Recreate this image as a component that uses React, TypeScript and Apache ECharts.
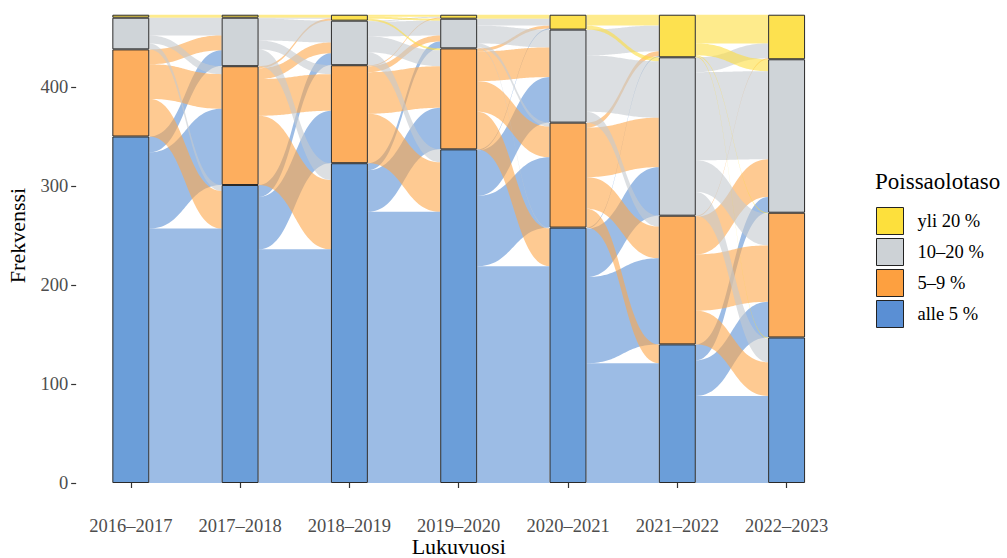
import React, { useEffect, useRef } from "react";
import * as echarts from "echarts";

// Academic years (x axis categories)
const years = ["2016–2017", "2017–2018", "2018–2019", "2019–2020", "2020–2021", "2021–2022", "2022–2023"];

// Absence levels, top to bottom (legend order)
const levels = ["yli 20 %", "10–20 %", "5–9 %", "alle 5 %"];

// Stratum counts per year
const yli20 = [3, 3, 6, 4, 15, 43, 45];
const p10_20 = [32, 49, 45, 30, 94, 160, 155];
const p5_9 = [88, 120, 99, 102, 106, 130, 126];
const alle5 = [350, 301, 323, 337, 258, 140, 147];

// Transition matrices: rows = origin level, cols = destination level
// order: yli 20 %, 10–20 %, 5–9 %, alle 5 %
const flows2016_2017 = [
  [3, 0, 0, 0],
  [0, 18, 8, 6],
  [0, 15, 35, 38],
  [0, 16, 77, 257],
];
const flows2017_2018 = [
  [3, 0, 0, 0],
  [1, 22, 9, 17],
  [2, 11, 37, 70],
  [0, 12, 53, 236],
];
const flows2018_2019 = [
  [2, 2, 2, 0],
  [1, 15, 16, 13],
  [1, 6, 42, 50],
  [0, 7, 42, 274],
];
const flows2019_2020 = [
  [4, 0, 0, 0],
  [7, 18, 4, 1],
  [3, 30, 31, 38],
  [1, 46, 71, 219],
];
const flows2020_2021 = [
  [11, 4, 0, 0],
  [26, 57, 11, 0],
  [5, 50, 32, 19],
  [1, 49, 87, 121],
];
const flows2021_2022 = [
  [29, 12, 1, 1],
  [15, 89, 32, 24],
  [1, 38, 57, 34],
  [0, 16, 36, 88],
];
const transitions = [flows2016_2017, flows2017_2018, flows2018_2019, flows2019_2020, flows2020_2021, flows2021_2022];

// styles
const BASE_RGB = [
  [253, 222, 63],
  [196, 202, 207],
  [253, 166, 74],
  [90, 143, 212],
];
const STRATUM_COLORS = ["#fde14f", "#cfd4d8", "#fdae5e", "#6b9ed9"];
const LEGEND_COLORS = ["#fde03c", "#cdd2d6", "#fda040", "#5a8fd4"];
const FLOW_ALPHA = 0.6;
const STRATUM_FRAC = 0.338;
const FONT = "'Liberation Serif', 'Times New Roman', serif";

function buildFlowData() {
  const byLevel = [yli20, p10_20, p5_9, alle5];
  const data: number[][] = [];
  transitions.forEach((M, g) => {
    const topOf = (yearIdx: number, lvl: number) => {
      let s = 0;
      for (let k = lvl; k < 4; k++) s += byLevel[k][yearIdx];
      return s;
    };
    const leftCursor = [0, 1, 2, 3].map((i) => topOf(g, i));
    const rightCursor = [0, 1, 2, 3].map((j) => topOf(g + 1, j));
    const leftPos: number[][][] = [];
    for (let i = 0; i < 4; i++) {
      leftPos[i] = [];
      for (let j = 0; j < 4; j++) {
        const v = M[i][j];
        leftPos[i][j] = [leftCursor[i], leftCursor[i] - v];
        leftCursor[i] -= v;
      }
    }
    for (let j = 0; j < 4; j++) {
      for (let i = 0; i < 4; i++) {
        const v = M[i][j];
        const top = rightCursor[j];
        rightCursor[j] -= v;
        if (v > 0) {
          data.push([g, leftPos[i][j][0], leftPos[i][j][1], top, top - v, i]);
        }
      }
    }
  });
  return data;
}

export default function App() {
  const ref = useRef<HTMLDivElement>(null);
  useEffect(() => {
    if (!ref.current) return;
    const chart = echarts.init(ref.current, undefined, { renderer: "svg" });
    const flowData = buildFlowData();

    const renderFlow = (params: any, api: any) => {
      const g = api.value(0);
      const tL = api.value(1);
      const bL = api.value(2);
      const tR = api.value(3);
      const bR = api.value(4);
      const lvl = api.value(5);
      const band = api.size([1, 0])[0];
      const hw = (band * STRATUM_FRAC) / 2;
      const xL = api.coord([g, 0])[0] + hw;
      const xR = api.coord([g + 1, 0])[0] - hw;
      const py = (v: number) => api.coord([g, v])[1];
      const ytL = py(tL), ybL = py(bL), ytR = py(tR), ybR = py(bR);
      const k = (xR - xL) * 0.5;
      const bez = (t: number, a: number, b: number, c: number, d: number) => {
        const u = 1 - t;
        return u * u * u * a + 3 * u * u * t * b + 3 * u * t * t * c + t * t * t * d;
      };
      const N = 40;
      const pts: number[][] = [];
      for (let s = 0; s <= N; s++) {
        const t = s / N;
        pts.push([bez(t, xL, xL + k, xR - k, xR), bez(t, ytL, ytL, ytR, ytR)]);
      }
      for (let s = N; s >= 0; s--) {
        const t = s / N;
        pts.push([bez(t, xL, xL + k, xR - k, xR), bez(t, ybL, ybL, ybR, ybR)]);
      }
      const c = BASE_RGB[lvl];
      return {
        type: "polygon",
        shape: { points: pts },
        style: { fill: `rgba(${c[0]},${c[1]},${c[2]},${FLOW_ALPHA})`, stroke: "none" },
      };
    };

    const strataSeries = [alle5, p5_9, p10_20, yli20].map((arr, idx) => {
      const lvl = 3 - idx;
      return {
        name: levels[lvl],
        type: "bar",
        stack: "strata",
        data: arr,
        barWidth: (STRATUM_FRAC * 100).toFixed(1) + "%",
        z: 5,
        itemStyle: { color: STRATUM_COLORS[lvl], borderColor: "#2a2a2a", borderWidth: 1 },
        emphasis: { disabled: true },
      };
    });

    const PX = 0.99;
    const YMAX = 500;
    const gridTop = 483 - YMAX * PX;
    const gridLeft = 76.15;
    const gridWidth = 765.1;
    chart.setOption({
      animation: false,
      textStyle: { fontFamily: FONT },
      grid: {
        left: gridLeft,
        width: gridWidth,
        top: gridTop,
        height: YMAX * PX,
        containLabel: false,
        outerBoundsMode: "none",
      },
      xAxis: {
        type: "category",
        data: years,
        boundaryGap: true,
        offset: 24,
        axisLine: { show: false },
        axisTick: { show: true, alignWithLabel: true, length: 5, lineStyle: { color: "#333", width: 1.2 } },
        axisLabel: { color: "#4d4d4d", fontSize: 18.5, margin: 9, fontFamily: FONT, interval: 0 },
        splitLine: { show: false },
      },
      yAxis: {
        type: "value",
        min: 0,
        max: YMAX,
        interval: 100,
        axisLine: { show: false },
        axisTick: { show: true, length: 5, lineStyle: { color: "#333", width: 1.2 } },
        axisLabel: {
          color: "#4d4d4d",
          fontSize: 18.5,
          margin: 8,
          fontFamily: FONT,
          formatter: (v: number) => (v <= 400 ? String(v) : ""),
        },
        splitLine: { show: false },
        name: "Frekvenssi",
        nameLocation: "middle",
        nameGap: 48,
        nameTextStyle: { color: "#000", fontSize: 22, fontFamily: FONT },
      },
      legend: {
        orient: "vertical",
        left: 876,
        top: 207,
        itemWidth: 27,
        itemHeight: 27,
        itemGap: 3,
        padding: 0,
        selectedMode: false,
        icon: "rect",
        textStyle: { color: "#000", fontSize: 18.5, fontFamily: FONT, padding: [0, 0, 0, 9] },
        data: levels.map((n, i) => ({
          name: n,
          icon: "rect",
          itemStyle: { color: LEGEND_COLORS[i], borderColor: "#222", borderWidth: 1 },
        })),
      },
      graphic: [
        {
          type: "text",
          left: 875,
          top: 170,
          style: { text: "Poissaolotaso", fontSize: 23, fontFamily: FONT, fill: "#000" },
        },
        {
          type: "text",
          x: gridLeft + gridWidth / 2,
          y: 546.5,
          style: {
            text: "Lukuvuosi",
            fontSize: 22,
            fontFamily: FONT,
            fill: "#000",
            align: "center",
            verticalAlign: "middle",
          },
        },
      ],
      series: [
        {
          type: "custom",
          name: "flows",
          renderItem: renderFlow,
          data: flowData,
          encode: { x: 0, y: [1, 2, 3, 4] },
          z: 2,
          silent: true,
          clip: false,
        },
        ...strataSeries,
      ],
    });
    return () => chart.dispose();
  }, []);
  return <div ref={ref} style={{ position: "absolute", left: 0, top: 0, width: 1007, height: 558 }} />;
}
